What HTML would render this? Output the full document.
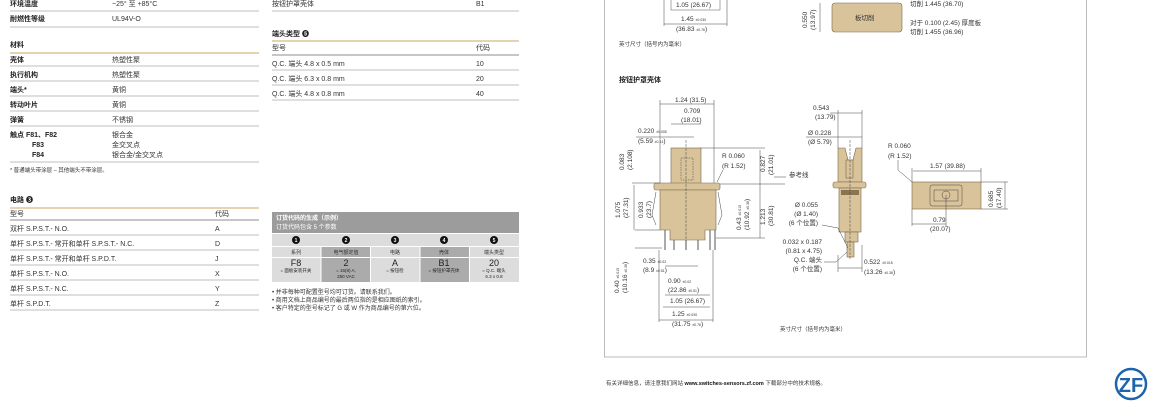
<!DOCTYPE html>
<html><head><meta charset="utf-8"><style>
html,body{margin:0;padding:0;background:#fff;}
svg{display:block;font-family:"Liberation Sans","Noto Sans CJK SC",sans-serif;}
.t{font-size:7px;fill:#333}
.b{font-size:7px;fill:#222;font-weight:bold}
.s{font-size:4px;fill:#333}
.d{font-size:6.5px;fill:#333}
.g{stroke:#aaa;stroke-width:.8}
.k{stroke:#444;stroke-width:.5;fill:none}
.tan{fill:#d9c39b;stroke:#7a6844;stroke-width:.6}
</style></head><body>
<svg width="1150" height="401" viewBox="0 0 1150 401" xmlns="http://www.w3.org/2000/svg">
<!-- LEFT COLUMN -->
<text class="b" x="10" y="6">环境温度</text><text class="t" x="112" y="6">−25° 至 +85°C</text>
<line class="g" x1="10" y1="11" x2="259" y2="11"/>
<text class="b" x="10" y="21">耐燃性等级</text><text class="t" x="112" y="21">UL94V-O</text>
<line class="g" x1="10" y1="27" x2="259" y2="27"/>
<text class="b" x="10" y="47">材料</text>
<line x1="10" y1="53" x2="259" y2="53" stroke="#c9a964" stroke-width="1"/>
<text class="b" x="10" y="62">壳体</text><text class="t" x="112" y="62">热塑性聚</text>
<line class="g" x1="10" y1="66" x2="259" y2="66"/>
<text class="b" x="10" y="77">执行机构</text><text class="t" x="112" y="77">热塑性聚</text>
<line class="g" x1="10" y1="81" x2="259" y2="81"/>
<text class="b" x="10" y="92">端头*</text><text class="t" x="112" y="92">黄铜</text>
<line class="g" x1="10" y1="96" x2="259" y2="96"/>
<text class="b" x="10" y="107">转动叶片</text><text class="t" x="112" y="107">黄铜</text>
<line class="g" x1="10" y1="111" x2="259" y2="111"/>
<text class="b" x="10" y="122">弹簧</text><text class="t" x="112" y="122">不锈钢</text>
<line class="g" x1="10" y1="126" x2="259" y2="126"/>
<text class="b" x="10" y="137">触点  F81、F82</text><text class="t" x="112" y="137">银合金</text>
<text class="b" x="32" y="147">F83</text><text class="t" x="112" y="147">金交叉点</text>
<text class="b" x="32" y="157">F84</text><text class="t" x="112" y="157">银合金/金交叉点</text>
<line class="g" x1="10" y1="162" x2="259" y2="162"/>
<text class="s" x="10" y="172" style="font-size:5.5px">* 普通端头带涂层 – 其他端头不带涂层。</text>

<text class="b" x="10" y="202">电路 ❸</text>
<line x1="10" y1="208" x2="259" y2="208" stroke="#c9a964" stroke-width="1"/>
<text class="t" x="10" y="216">型号</text><text class="t" x="215" y="216">代码</text>
<line x1="10" y1="220" x2="259" y2="220" stroke="#666" stroke-width=".8"/>
<text class="t" x="10" y="231">双杆 S.P.S.T.- N.O.</text><text class="t" x="215" y="231">A</text>
<line class="g" x1="10" y1="235" x2="259" y2="235"/>
<text class="t" x="10" y="246">单杆 S.P.S.T.- 常开和单杆 S.P.S.T.- N.C.</text><text class="t" x="215" y="246">D</text>
<line class="g" x1="10" y1="250" x2="259" y2="250"/>
<text class="t" x="10" y="261">单杆 S.P.S.T.- 常开和单杆 S.P.D.T.</text><text class="t" x="215" y="261">J</text>
<line class="g" x1="10" y1="265" x2="259" y2="265"/>
<text class="t" x="10" y="276">单杆 S.P.S.T.- N.O.</text><text class="t" x="215" y="276">X</text>
<line class="g" x1="10" y1="280" x2="259" y2="280"/>
<text class="t" x="10" y="291">单杆 S.P.S.T.- N.C.</text><text class="t" x="215" y="291">Y</text>
<line class="g" x1="10" y1="295" x2="259" y2="295"/>
<text class="t" x="10" y="306">单杆 S.P.D.T.</text><text class="t" x="215" y="306">Z</text>
<line class="g" x1="10" y1="310" x2="259" y2="310"/>

<!-- MIDDLE COLUMN -->
<text class="t" x="272" y="6">按钮护罩壳体</text><text class="t" x="476" y="6">B1</text>
<line class="g" x1="272" y1="11" x2="519" y2="11"/>
<text class="b" x="272" y="36">端头类型 ❺</text>
<line x1="272" y1="41" x2="519" y2="41" stroke="#c9a964" stroke-width="1"/>
<text class="t" x="272" y="50">型号</text><text class="t" x="476" y="50">代码</text>
<line x1="272" y1="55" x2="519" y2="55" stroke="#666" stroke-width=".8"/>
<text class="t" x="272" y="66">Q.C. 端头 4.8 x 0.5 mm</text><text class="t" x="476" y="66">10</text>
<line class="g" x1="272" y1="70" x2="519" y2="70"/>
<text class="t" x="272" y="81">Q.C. 端头 6.3 x 0.8 mm</text><text class="t" x="476" y="81">20</text>
<line class="g" x1="272" y1="85" x2="519" y2="85"/>
<text class="t" x="272" y="96">Q.C. 端头 4.8 x 0.8 mm</text><text class="t" x="476" y="96">40</text>
<line class="g" x1="272" y1="100" x2="519" y2="100"/>

<!-- order box -->
<rect x="272" y="212" width="247" height="21" fill="#9c9c9c"/>
<text x="276" y="220" style="font-size:6px;fill:#fff;font-weight:bold">订货代码的生成（示例）</text>
<text x="276" y="229" style="font-size:6px;fill:#fff">订货代码包含 5 个参数</text>
<rect x="272" y="234" width="247" height="12" fill="#dcdcdc"/>
<g font-size="5" text-anchor="middle">
<rect x="272" y="247" width="48.5" height="35" fill="#dcdcdc"/>
<rect x="321.5" y="247" width="48.5" height="35" fill="#ababab"/>
<rect x="371" y="247" width="48.5" height="35" fill="#dcdcdc"/>
<rect x="420.5" y="247" width="48.5" height="35" fill="#ababab"/>
<rect x="470" y="247" width="49" height="35" fill="#dcdcdc"/>
<line x1="272" y1="257.5" x2="519" y2="257.5" stroke="#fff" stroke-width="1"/>
<g fill="#111"><circle cx="296" cy="240" r="4"/><circle cx="346" cy="240" r="4"/><circle cx="395" cy="240" r="4"/><circle cx="444" cy="240" r="4"/><circle cx="494" cy="240" r="4"/></g>
<g fill="#fff" font-weight="bold"><text x="296" y="242">1</text><text x="346" y="242">2</text><text x="395" y="242">3</text><text x="444" y="242">4</text><text x="494" y="242">5</text></g>
<g fill="#333"><text x="296" y="254">系列</text><text x="346" y="254">电气额定值</text><text x="395" y="254">电路</text><text x="444" y="254">壳体</text><text x="494" y="254">端头类型</text></g>
<g fill="#222" font-size="9"><text x="296" y="266">F8</text><text x="346" y="266">2</text><text x="395" y="266">A</text><text x="444" y="266">B1</text><text x="494" y="266">20</text></g>
<g fill="#222" font-size="4.5"><text x="296" y="272">= 面板安装开关</text><text x="346" y="272">= 16(8) A,</text><text x="346" y="278">250 VAC</text><text x="395" y="272">= 按钮检</text><text x="444" y="272">= 按钮护罩壳体</text><text x="494" y="272">= Q.C. 端头</text><text x="494" y="278">6.3 x 0.8</text></g>
</g>
<text class="t" x="272" y="294" style="font-size:6px">• 并非每种可配置型号均可订货。请联系我们。</text>
<text class="t" x="272" y="302" style="font-size:6px">• 商用文档上商品编号的最后两位指的是相应图纸的索引。</text>
<text class="t" x="272" y="310" style="font-size:6px">• 客户特定的型号标记了 G 或 W 作为商品编号的第六位。</text>

<!-- RIGHT FRAME -->
<rect x="604.5" y="-5" width="482" height="362" fill="none" stroke="#bbb" stroke-width="1"/>
<g class="d">
<rect x="671" y="-2" width="49" height="12" fill="none" stroke="#555" stroke-width=".5"/>
<text x="676" y="7">1.05 (26.67)</text>
<line class="k" x1="664" y1="0" x2="664" y2="26"/><line class="k" x1="727" y1="0" x2="727" y2="26"/>
<text x="681" y="21">1.45 <tspan font-size="3.5">±0.030</tspan></text>
<line class="k" x1="664" y1="24" x2="727" y2="24"/>
<text x="676" y="31">(36.83 <tspan font-size="3.5">±0.76</tspan>)</text>
<text x="619" y="46" style="font-size:5.5px">英寸尺寸（括号内为毫米）</text>
<rect class="tan" x="832" y="3" width="70" height="29" rx="3"/>
<text x="855" y="20">板切削</text>
<line class="k" x1="820" y1="3" x2="820" y2="32"/>
<text transform="translate(807,28) rotate(-90)">0.550</text>
<text transform="translate(815,30) rotate(-90)">(13.97)</text>
<text x="910" y="6">切削 1.445 (36.70)</text>
<text x="910" y="25">对于 0.100 (2.45) 厚度板</text>
<text x="910" y="34">切削 1.455 (36.96)</text>
</g>
<text class="b" x="619" y="82">按钮护罩壳体</text>

<!-- front view -->
<g>
<rect class="tan" x="671" y="148" width="30" height="36"/>
<rect class="k" x="681" y="158" width="12" height="22" stroke-dasharray="1.5 1"/>
<rect class="tan" x="654" y="183" width="66" height="7" rx="2"/>
<path class="tan" d="M660 190 H716 V230 H705 V240 H670 V230 H660 Z"/>
<path class="k" d="M656 192 L652 215 L656 225 M718 192 L722 215 L718 225"/>
<g stroke="#555" stroke-width="1"><line x1="665" y1="230" x2="665" y2="250"/><line x1="674" y1="240" x2="674" y2="250"/><line x1="686" y1="240" x2="686" y2="250"/><line x1="698" y1="240" x2="698" y2="250"/><line x1="710" y1="230" x2="710" y2="250"/><line x1="715" y1="230" x2="715" y2="250"/></g>
<line class="k" x1="686" y1="140" x2="686" y2="250" stroke-dasharray="3 1"/>
</g>
<g class="d">
<text x="675" y="102">1.24 (31.5)</text><line class="k" x1="660" y1="104" x2="714" y2="104"/>
<line class="k" x1="660" y1="100" x2="660" y2="183"/><line class="k" x1="714" y1="100" x2="714" y2="183"/>
<text x="684" y="113">0.709</text><text x="681" y="122">(18.01)</text><line class="k" x1="671" y1="124" x2="701" y2="124"/>
<text x="638" y="133">0.220 <tspan font-size="3.5">±0.005</tspan></text><text x="638" y="143">(5.59 <tspan font-size="3.5">±0.13</tspan>)</text>
<line class="k" x1="636" y1="137" x2="694" y2="137"/>
<text x="722" y="158">R 0.060</text><text x="722" y="168">(R 1.52)</text>
<line class="k" x1="723" y1="170" x2="717" y2="182"/>
<text transform="translate(624,170) rotate(-90)">0.083</text><text transform="translate(632,170) rotate(-90)">(2.108)</text>
<text transform="translate(620,218) rotate(-90)">1.075</text><text transform="translate(628,218) rotate(-90)">(27.31)</text>
<text transform="translate(643,218) rotate(-90)">0.933</text><text transform="translate(651,218) rotate(-90)">(23.7)</text>
<text transform="translate(619,293) rotate(-90)">0.40 <tspan font-size="3.5">±0.015</tspan></text><text transform="translate(627,293) rotate(-90)">(10.16 <tspan font-size="3.5">±0.38</tspan>)</text>
<line class="k" x1="632" y1="183" x2="660" y2="183"/><line class="k" x1="635" y1="230" x2="660" y2="230"/><line class="k" x1="635" y1="248" x2="662" y2="248"/>
<line class="k" x1="634" y1="185" x2="634" y2="230"/>
<text transform="translate(741,230) rotate(-90)">0.43 <tspan font-size="3.5">±0.015</tspan></text><text transform="translate(749,230) rotate(-90)">(10.92 <tspan font-size="3.5">±0.38</tspan>)</text>
<text transform="translate(765,225) rotate(-90)">1.213</text><text transform="translate(773,226) rotate(-90)">(30.81)</text>
<text transform="translate(765,172) rotate(-90)">0.827</text><text transform="translate(773,175) rotate(-90)">(21.01)</text>
<line class="k" x1="760" y1="150" x2="760" y2="238"/><line class="k" x1="700" y1="148" x2="765" y2="148"/>
<line class="k" x1="720" y1="184" x2="785" y2="184"/><line class="k" x1="716" y1="238" x2="765" y2="238"/>
<text x="789" y="177">参考线</text><line class="k" x1="774" y1="177" x2="786" y2="177"/>
<text x="643" y="263">0.35 <tspan font-size="3.5">±0.02</tspan></text><text x="643" y="272">(8.9 <tspan font-size="3.5">±0.51</tspan>)</text>
<line class="k" x1="665" y1="266" x2="698" y2="266"/>
<text x="668" y="283">0.90 <tspan font-size="3.5">±0.02</tspan></text><text x="668" y="292">(22.86 <tspan font-size="3.5">±0.51</tspan>)</text>
<line class="k" x1="665" y1="295" x2="710" y2="295"/>
<text x="670" y="303">1.05 (26.67)</text><line class="k" x1="663" y1="307" x2="710" y2="307"/>
<text x="672" y="316">1.25 <tspan font-size="3.5">±0.030</tspan></text><text x="672" y="326">(31.75 <tspan font-size="3.5">±0.76</tspan>)</text>
<line class="k" x1="659" y1="320" x2="713" y2="320"/>
<line class="k" x1="659" y1="250" x2="659" y2="322"/><line class="k" x1="713" y1="250" x2="713" y2="322"/>
<text x="780" y="331" style="font-size:5.5px">英寸尺寸（括号内为毫米）</text>
</g>

<!-- side view -->
<g>
<path class="tan" d="M838 148 L845 148 L848 160 L853 160 L856 148 L862 148 L862 182 L838 182 Z"/>
<rect class="tan" x="846" y="160" width="7" height="18"/>
<rect class="tan" x="833" y="182" width="33" height="6" rx="2"/>
<rect class="tan" x="839" y="188" width="22" height="44"/>
<rect x="841" y="190" width="18" height="5" fill="#8a7550"/>
<rect class="tan" x="845" y="232" width="13" height="10"/>
<rect class="tan" x="847" y="242" width="7" height="15"/>
<line class="k" x1="850" y1="140" x2="850" y2="260" stroke-dasharray="3 1"/>
</g>
<g class="d">
<text x="813" y="110">0.543</text><text x="815" y="119">(13.79)</text><line class="k" x1="830" y1="113" x2="862" y2="113"/>
<text x="808" y="135">Ø 0.228</text><text x="808" y="144">(Ø 5.79)</text><line class="k" x1="806" y1="137" x2="862" y2="137"/>
<line class="k" x1="838" y1="110" x2="838" y2="148"/><line class="k" x1="862" y1="110" x2="862" y2="148"/>
<text x="818" y="207" text-anchor="end">Ø 0.055</text><text x="818" y="216" text-anchor="end">(Ø 1.40)</text><text x="818" y="225" text-anchor="end">(6 个位置)</text>
<path class="k" d="M822 225 L838 228 L848 248"/>
<text x="822" y="244" text-anchor="end">0.032 x 0.187</text><text x="822" y="253" text-anchor="end">(0.81 x 4.75)</text><text x="822" y="262" text-anchor="end">Q.C. 端头</text><text x="822" y="271" text-anchor="end">(6 个位置)</text>
<path class="k" d="M824 262 L836 262 L847 252"/>
<text x="864" y="264">0.522 <tspan font-size="3.5">±0.015</tspan></text><text x="864" y="274">(13.26 <tspan font-size="3.5">±0.38</tspan>)</text>
<line class="k" x1="838" y1="268" x2="862" y2="268"/><line class="k" x1="838" y1="255" x2="838" y2="272"/><line class="k" x1="862" y1="245" x2="862" y2="272"/>
</g>

<!-- top view -->
<g>
<rect class="tan" x="912" y="182" width="69" height="27"/>
<rect class="k" x="930" y="185" width="32" height="21" rx="2" stroke-width=".7"/>
<rect class="k" x="934" y="190" width="24" height="11"/>
<circle class="k" cx="946" cy="195" r="4"/>
</g>
<g class="d">
<text x="888" y="148">R 0.060</text><text x="888" y="158">(R 1.52)</text><path class="k" d="M898 160 L898 170 L912 182"/>
<text x="930" y="168">1.57 (39.88)</text><line class="k" x1="913" y1="171" x2="981" y2="171"/>
<line class="k" x1="912" y1="168" x2="912" y2="182"/><line class="k" x1="981" y1="168" x2="981" y2="182"/>
<text transform="translate(993,207) rotate(-90)">0.685</text><text transform="translate(1001,208) rotate(-90)">(17.40)</text>
<line class="k" x1="1005" y1="182" x2="1005" y2="209"/><line class="k" x1="981" y1="182" x2="1008" y2="182"/><line class="k" x1="981" y1="209" x2="1008" y2="209"/>
<text x="933" y="222">0.79</text><text x="930" y="231">(20.07)</text>
<line class="k" x1="912" y1="224" x2="946" y2="224"/><line class="k" x1="946" y1="195" x2="946" y2="226"/><line class="k" x1="912" y1="209" x2="912" y2="226"/>
</g>

<!-- footer -->
<text x="606" y="385" style="font-size:5.5px;fill:#333">有关详细信息，请注意我们网站 <tspan font-weight="bold" fill="#111">www.switches-sensors.zf.com</tspan> 下载部分中的技术规格。</text>
<circle cx="1131" cy="384" r="15" fill="#fff" stroke="#1d64ad" stroke-width="2.5"/>
<text x="1131" y="392" text-anchor="middle" style="font-size:20px;font-weight:bold;fill:#1d64ad;font-family:'Liberation Sans',sans-serif">ZF</text>
</svg>
</body></html>
